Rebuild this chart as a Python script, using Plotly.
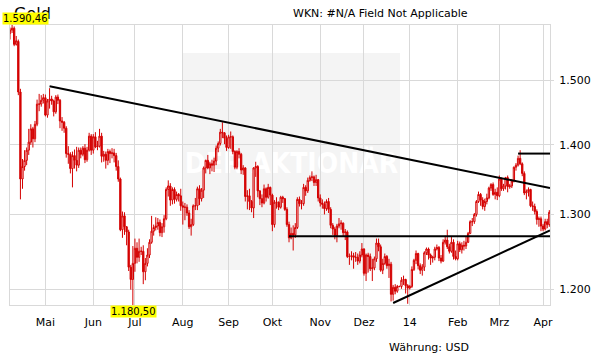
import math
import pandas as pd
import plotly.graph_objects as go

# ---------------- data (gold, daily OHLC, USD) ----------------
dates = pd.bdate_range("2013-04-08", "2014-04-04")

opens = [
    # Apr 2013
    1576, 1582, 1585, 1558, 1563, 1481, 1350, 1368, 1377, 1392, 1404, 1424, 1409, 1431, 1462, 1462, 1468,
    # May
    1472, 1445, 1467, 1470, 1467, 1450, 1473, 1468, 1436, 1434, 1425, 1387, 1386, 1365, 1384, 1377, 1370, 1392, 1386, 1395, 1378, 1392, 1413,
    # Jun
    1392, 1412, 1397, 1398, 1413, 1383, 1386, 1377, 1390, 1387, 1388, 1384, 1368, 1350, 1279, 1298, 1283, 1276, 1229, 1213,
    # Jul
    1234, 1254, 1242, 1250, 1250, 1223, 1234, 1245, 1262, 1277, 1282, 1284, 1289, 1275, 1283, 1294, 1335, 1340, 1320, 1335, 1321, 1328, 1326,
    # Aug
    1312, 1310, 1310, 1302, 1283, 1286, 1312, 1312, 1336, 1322, 1334, 1366, 1377, 1366, 1372, 1370, 1376, 1395, 1402, 1419, 1418, 1410,
    # Sep
    1396, 1412, 1412, 1390, 1367, 1390, 1386, 1363, 1366, 1325, 1326, 1318, 1309, 1366, 1368, 1333, 1322, 1316, 1336, 1324, 1338,
    # Oct
    1327, 1286, 1317, 1317, 1310, 1324, 1322, 1307, 1286, 1268, 1274, 1272, 1282, 1321, 1315, 1315, 1338, 1333, 1348, 1352, 1353, 1345, 1349,
    # Nov
    1323, 1316, 1314, 1308, 1318, 1307, 1285, 1280, 1271, 1284, 1287, 1288, 1275, 1276, 1243, 1243, 1244, 1242, 1242, 1237, 1245,
    # Dec
    1253, 1221, 1245, 1243, 1227, 1228, 1240, 1261, 1256, 1225, 1234, 1243, 1231, 1233, 1194, 1203, 1198, 1204, 1204, 1212, 1213, 1205,
    # Jan 2014
    1202, 1204, 1226, 1238, 1247, 1231, 1225, 1229, 1248, 1253, 1245, 1241, 1242, 1253, 1255, 1241, 1237, 1262, 1265, 1256, 1250, 1262, 1243,
    # Feb
    1240, 1260, 1252, 1258, 1257, 1262, 1274, 1290, 1290, 1300, 1318, 1328, 1320, 1311, 1318, 1323, 1337, 1342, 1328, 1331,
    # Mar
    1326, 1350, 1336, 1340, 1352, 1339, 1340, 1347, 1367, 1370, 1380, 1372, 1358, 1330, 1332, 1335, 1312, 1311, 1304, 1293, 1294,
    # Apr
    1284, 1280, 1290, 1286,
]
highs = [
    1586, 1590.46, 1588, 1572, 1566, 1486, 1379, 1392, 1396, 1424, 1431, 1427, 1436, 1469, 1478, 1476, 1478,
    1477, 1470, 1487, 1475, 1469, 1476, 1477, 1470, 1442, 1436, 1428, 1398, 1389, 1390, 1393, 1397, 1396, 1396, 1398, 1401, 1397, 1418, 1416,
    1416, 1419, 1406, 1424, 1418, 1391, 1390, 1394, 1393, 1395, 1394, 1388, 1377, 1352, 1304, 1303, 1284, 1279, 1232, 1257,
    1267, 1262, 1267, 1256, 1258, 1241, 1254, 1266, 1298, 1286, 1296, 1295, 1293, 1288, 1299, 1338, 1348, 1344, 1338, 1338, 1332, 1330, 1336,
    1318, 1316, 1314, 1306, 1294, 1314, 1323, 1339, 1341, 1337, 1368, 1378, 1385, 1375, 1378, 1381, 1399, 1405, 1424, 1434, 1419, 1414,
    1415, 1420, 1414, 1392, 1392, 1395, 1388, 1370, 1367, 1334, 1336, 1320, 1367, 1375, 1370, 1334, 1328, 1342, 1338, 1343, 1339,
    1329, 1320, 1324, 1318, 1326, 1326, 1323, 1310, 1290, 1282, 1285, 1288, 1324, 1325, 1320, 1343, 1341, 1352, 1355, 1361, 1355, 1356, 1350,
    1328, 1321, 1318, 1321, 1323, 1310, 1288, 1283, 1287, 1295, 1292, 1289, 1280, 1278, 1247, 1250, 1248, 1249, 1247, 1250, 1261,
    1254, 1247, 1248, 1247, 1240, 1243, 1267, 1267, 1259, 1240, 1247, 1245, 1240, 1236, 1206, 1207, 1206, 1205, 1216, 1218, 1214, 1207,
    1206, 1230, 1240, 1251, 1248, 1234, 1233, 1250, 1255, 1255, 1247, 1244, 1256, 1259, 1257, 1245, 1266, 1271, 1279, 1260, 1269, 1266, 1251,
    1264, 1263, 1262, 1264, 1270, 1276, 1292, 1295, 1302, 1320, 1332, 1330, 1324, 1322, 1329, 1339, 1344, 1345, 1336, 1338,
    1355, 1352, 1343, 1353, 1355, 1343, 1350, 1368, 1373, 1384, 1392, 1374, 1361, 1335, 1338, 1336, 1318, 1315, 1307, 1297, 1297,
    1287, 1294, 1294, 1306,
]
lows = [
    1566, 1577, 1555, 1556, 1476, 1321, 1336, 1362, 1370, 1385, 1400, 1396, 1404, 1428, 1451, 1458, 1463,
    1443, 1441, 1455, 1461, 1443, 1447, 1462, 1425, 1421, 1418, 1381, 1372, 1358, 1338, 1365, 1361, 1366, 1380, 1383, 1373, 1375, 1390, 1385,
    1387, 1395, 1392, 1396, 1374, 1375, 1365, 1370, 1373, 1380, 1374, 1362, 1346, 1277, 1268, 1272, 1258, 1224, 1200, 1180.5,
    1223, 1234, 1236, 1245, 1207, 1212, 1230, 1241, 1260, 1271, 1278, 1279, 1270, 1269, 1275, 1292, 1325, 1312, 1314, 1315, 1318, 1318, 1305,
    1286, 1292, 1298, 1280, 1271, 1284, 1306, 1306, 1313, 1318, 1323, 1358, 1364, 1357, 1361, 1360, 1370, 1389, 1399, 1410, 1401, 1391,
    1394, 1394, 1386, 1364, 1364, 1380, 1357, 1356, 1318, 1307, 1306, 1303, 1295, 1353, 1324, 1313, 1310, 1314, 1318, 1322, 1313,
    1277, 1282, 1308, 1306, 1308, 1316, 1305, 1283, 1262, 1266, 1251, 1268, 1280, 1311, 1307, 1312, 1326, 1330, 1346, 1347, 1340, 1340, 1318,
    1311, 1308, 1300, 1305, 1302, 1281, 1272, 1266, 1262, 1281, 1279, 1270, 1265, 1241, 1232, 1238, 1227, 1236, 1232, 1234, 1242,
    1218, 1211, 1222, 1224, 1211, 1225, 1236, 1250, 1223, 1220, 1232, 1227, 1215, 1185, 1186, 1194, 1196, 1203, 1201, 1206, 1195, 1182,
    1200, 1202, 1224, 1233, 1226, 1220, 1218, 1224, 1245, 1239, 1232, 1235, 1238, 1251, 1237, 1234, 1236, 1259, 1253, 1247, 1248, 1239, 1238,
    1238, 1249, 1247, 1251, 1253, 1261, 1273, 1284, 1287, 1297, 1316, 1312, 1307, 1305, 1314, 1321, 1333, 1326, 1321, 1320,
    1324, 1333, 1333, 1335, 1331, 1336, 1337, 1345, 1362, 1368, 1370, 1354, 1327, 1321, 1325, 1310, 1305, 1300, 1286, 1283, 1277,
    1277, 1278, 1281, 1283,
]
closes = [
    1582, 1585, 1558, 1564, 1481, 1350, 1368, 1377, 1392, 1404, 1424, 1409, 1431, 1462, 1462, 1468, 1472,
    1445, 1467, 1470, 1467, 1450, 1473, 1468, 1436, 1434, 1425, 1387, 1386, 1365, 1384, 1377, 1370, 1392, 1386, 1395, 1378, 1392, 1413, 1392,
    1412, 1397, 1398, 1413, 1383, 1386, 1377, 1390, 1387, 1388, 1384, 1368, 1350, 1279, 1298, 1283, 1276, 1229, 1213, 1234,
    1254, 1242, 1250, 1250, 1223, 1234, 1245, 1262, 1277, 1282, 1284, 1289, 1275, 1283, 1294, 1335, 1340, 1320, 1335, 1321, 1328, 1326, 1312,
    1310, 1310, 1302, 1283, 1286, 1312, 1312, 1336, 1322, 1334, 1366, 1377, 1366, 1372, 1370, 1376, 1395, 1402, 1419, 1418, 1410, 1396,
    1412, 1412, 1390, 1367, 1390, 1386, 1363, 1366, 1325, 1326, 1318, 1309, 1366, 1368, 1333, 1322, 1316, 1336, 1324, 1338, 1327,
    1286, 1317, 1317, 1310, 1324, 1322, 1307, 1286, 1268, 1274, 1272, 1282, 1321, 1315, 1315, 1338, 1333, 1348, 1352, 1353, 1345, 1349, 1323,
    1316, 1314, 1308, 1318, 1307, 1285, 1280, 1271, 1284, 1287, 1288, 1275, 1276, 1243, 1243, 1244, 1242, 1242, 1237, 1245, 1253,
    1221, 1245, 1243, 1227, 1228, 1240, 1261, 1256, 1225, 1234, 1243, 1231, 1233, 1194, 1203, 1198, 1204, 1204, 1212, 1213, 1205, 1202,
    1204, 1226, 1238, 1247, 1231, 1225, 1229, 1248, 1253, 1245, 1241, 1242, 1253, 1255, 1241, 1237, 1262, 1265, 1256, 1250, 1262, 1243, 1240,
    1260, 1252, 1258, 1257, 1262, 1274, 1290, 1290, 1300, 1318, 1328, 1320, 1311, 1318, 1323, 1337, 1342, 1328, 1331, 1326,
    1350, 1336, 1340, 1352, 1339, 1340, 1347, 1367, 1370, 1380, 1372, 1358, 1330, 1332, 1335, 1312, 1311, 1304, 1293, 1294, 1284,
    1280, 1290, 1286, 1303,
]

# trend lines drawn on the chart (date, price)
trend_down_x = ["2013-05-03", "2014-04-04 08:00"]
trend_down_y = [1490, 1337]
support_x = ["2013-10-11", "2014-04-04 08:00"]
support_y = [1270, 1270]
trend_up_x = ["2013-12-20", "2014-04-04 08:00"]
trend_up_y = [1183, 1278]
resist_x = ["2014-03-14", "2014-04-04 08:00"]
resist_y = [1387, 1387]

month_ticks = ["2013-05-01", "2013-06-03", "2013-07-01", "2013-08-01", "2013-09-02", "2013-10-01",
               "2013-11-01", "2013-12-02", "2014-01-01", "2014-02-03", "2014-03-03", "2014-04-01"]
month_labels = ["Mai", "Jun", "Jul", "Aug", "Sep", "Okt", "Nov", "Dez", "14", "Feb", "Mrz", "Apr"]
price_ticks = [1200, 1300, 1400, 1500]
price_labels = ["1.200", "1.300", "1.400", "1.500"]
max_label = "1.590,46"
min_label = "1.180,50"
y_max = 1590.46
y_min = 1180.50

assert len(dates) == len(opens) == len(highs) == len(lows) == len(closes)

# ---------------- figure ----------------
W, H = 611, 364
# plot area in screen pixels
L, R, T, B = 10, 550, 25, 305
RED = "#d40000"
FONT = "DejaVu Sans"
FS = 11

def px(x):
    return (x - L) / (R - L)

def py(y):
    return (B - y) / (B - T)

fig = go.Figure()
fig.add_trace(go.Candlestick(
    x=dates, open=opens, high=highs, low=lows, close=closes,
    increasing=dict(line=dict(color=RED, width=1), fillcolor="white"),
    decreasing=dict(line=dict(color=RED, width=1), fillcolor=RED),
    whiskerwidth=0, showlegend=False, hoverinfo="skip",
))
for xs, ys in [(trend_down_x, trend_down_y), (support_x, support_y),
               (trend_up_x, trend_up_y), (resist_x, resist_y)]:
    fig.add_trace(go.Scatter(x=xs, y=ys, mode="lines", line=dict(color="black", width=2),
                             showlegend=False, hoverinfo="skip", cliponaxis=True))

GRID = "#d9d9d9"
fig.update_layout(
    width=W, height=H,
    margin=dict(l=L, r=W - R, t=T, b=H - B, pad=0),
    paper_bgcolor="white", plot_bgcolor="white",
    showlegend=False,
    boxgap=0.1,
    font=dict(family=FONT, size=FS, color="black"),
    xaxis=dict(
        type="date",
        rangebreaks=[dict(bounds=["sat", "mon"])],
        range=["2013-04-08 00:00", "2014-04-04 08:00"],
        rangeslider=dict(visible=False),
        tickmode="array", tickvals=month_ticks, ticktext=month_labels,
        showgrid=True, gridcolor=GRID, gridwidth=1,
        showline=True, linecolor=GRID, linewidth=1, mirror=True,
        ticks="", ticklabelstandoff=7,
        tickfont=dict(family=FONT, size=FS, color="black"),
        zeroline=False,
    ),
    yaxis=dict(
        type="log",
        range=[math.log10(y_min), math.log10(y_max)],
        side="right",
        tickmode="array", tickvals=price_ticks, ticktext=price_labels,
        showgrid=True, gridcolor=GRID, gridwidth=1,
        showline=True, linecolor=GRID, linewidth=1, mirror=True,
        ticks="outside", ticklen=3, tickcolor=GRID, ticklabelstandoff=3,
        tickfont=dict(family=FONT, size=FS, color="black"),
        zeroline=False,
    ),
)

# watermark box with its text, below the data
fig.add_shape(type="rect", xref="paper", yref="paper",
              x0=px(183), x1=px(400), y0=py(270), y1=py(53),
              fillcolor="#f4f4f4", line=dict(width=0), layer="below",
              label=dict(text="<b>DER AKTIONÄR</b>", textposition="middle center",
                         padding=0,
                         font=dict(family="Liberation Sans Narrow, DejaVu Sans Condensed, sans-serif",
                                   size=28, color="white")))

# texts
fig.add_annotation(xref="paper", yref="paper", x=px(12), y=py(14), text="Gold", showarrow=False,
                   xanchor="left", yanchor="middle", font=dict(family=FONT, size=16, color="black"))
fig.add_annotation(xref="paper", yref="paper", x=px(2), y=py(18.5), text=max_label, showarrow=False,
                   xanchor="left", yanchor="middle", bgcolor="#ffff00", borderpad=0,
                   font=dict(family=FONT, size=10, color="black"))
fig.add_annotation(xref="paper", yref="paper", x=px(110), y=py(311), text=min_label, showarrow=False,
                   xanchor="left", yanchor="middle", bgcolor="#ffff00", borderpad=0,
                   font=dict(family=FONT, size=10, color="black"))
fig.add_annotation(xref="paper", yref="paper", x=px(470), y=py(14), text="WKN: #N/A Field Not Applicable",
                   showarrow=False, xanchor="right", yanchor="middle",
                   font=dict(family=FONT, size=FS, color="black"))
fig.add_annotation(xref="paper", yref="paper", x=px(387), y=py(347), text="Währung: USD",
                   showarrow=False, xanchor="left", yanchor="middle",
                   font=dict(family=FONT, size=FS, color="black"))

# the page body would otherwise add an 8px margin around the figure
fig.write_html("out.html", config={"staticPlot": True, "displayModeBar": False},
               post_script="document.body.style.margin='0px';")
